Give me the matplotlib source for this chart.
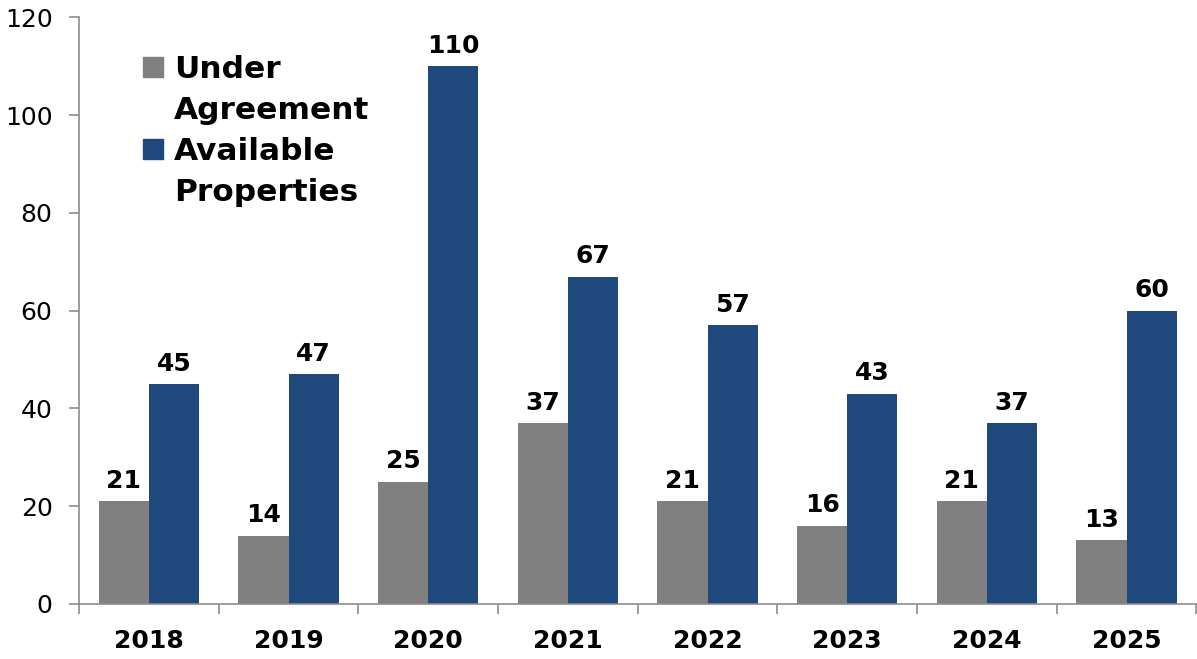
import numpy as np
from matplotlib import pyplot as plt
from matplotlib.patches import Rectangle

years = ['2018', '2019', '2020', '2021', '2022', '2023', '2024', '2025']
under_agreement = [21, 14, 25, 37, 21, 16, 21, 13]
available = [45, 47, 110, 67, 57, 43, 37, 60]
series_labels = ['Under\nAgreement', 'Available\nProperties']

gray = '#808080'
blue = '#1F497D'
axis_color = '#8C8C8C'

W, H = 1197, 659
fig = plt.figure(figsize=(W / 100, H / 100), dpi=100)
ax = fig.add_axes([0.066, 0.0835, 0.9335, 0.89])

x = np.arange(len(years))
w = 0.36
b1 = ax.bar(x - w / 2, under_agreement, w, color=gray)
b2 = ax.bar(x + w / 2, available, w, color=blue)

for bars, vals in ((b1, under_agreement), (b2, available)):
    for r, v in zip(bars, vals):
        ax.annotate(str(v), (r.get_x() + r.get_width() / 2, r.get_height()),
                    xytext=(0, 6), textcoords='offset points',
                    ha='center', va='bottom', fontsize=18, fontweight='bold',
                    family='DejaVu Sans')

ax.set_xlim(-0.5, len(years) - 0.5)
ax.set_ylim(0, 120)
ax.set_yticks(range(0, 121, 20))
ax.set_xticks(x)
ax.set_xticklabels(years, fontsize=18, fontweight='bold')
ax.set_xticks(np.arange(-0.5, len(years), 1), minor=True)
ax.tick_params(axis='x', which='major', length=0, pad=18)
ax.tick_params(axis='x', which='minor', length=7, width=1.2, color=axis_color)
ax.tick_params(axis='y', length=7, width=1.2, color=axis_color, labelsize=18, pad=12)

for s in ('top', 'right'):
    ax.spines[s].set_visible(False)
for s in ('left', 'bottom'):
    ax.spines[s].set_color(axis_color)
    ax.spines[s].set_linewidth(1.2)

# legend drawn by hand: square on the first line of each two-line label
line_gap = 41
first_base = 78
for i, (lab, col) in enumerate(zip(series_labels, [gray, blue])):
    base = first_base + i * 2 * line_gap
    fig.add_artist(Rectangle((143 / W, 1 - (base - 1) / H), 20 / W, 20 / H,
                             transform=fig.transFigure, color=col))
    for j, line in enumerate(lab.split('\n')):
        fig.text(174 / W, 1 - (base + j * line_gap) / H, line,
                 fontsize=22.5, fontweight='bold', family='DejaVu Sans',
                 va='baseline', ha='left')

plt.savefig('out.png', dpi=100)
